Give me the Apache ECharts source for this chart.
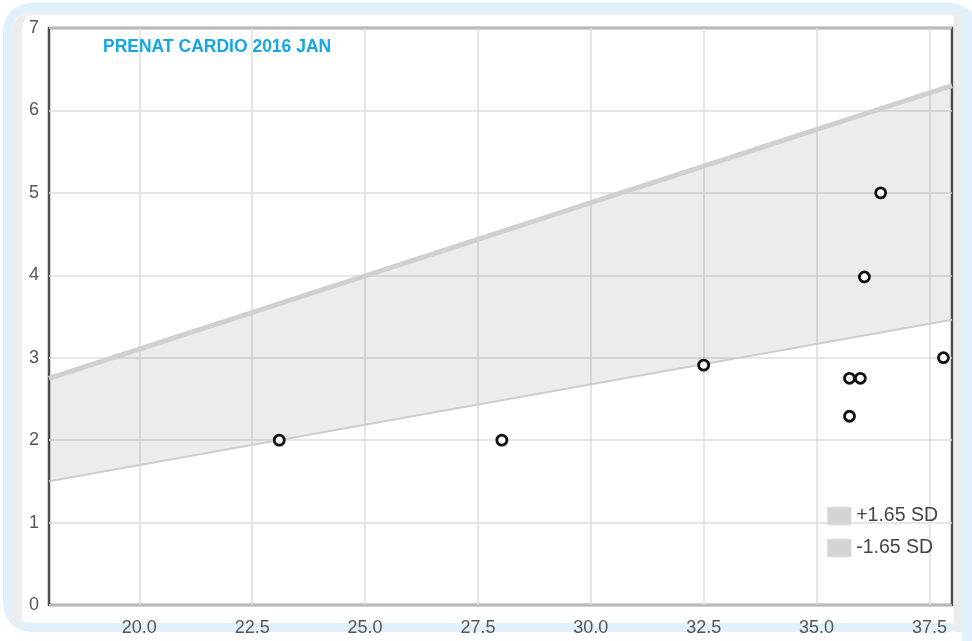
<!DOCTYPE html>
<html>
<head>
<meta charset="utf-8">
<script src="https://cdn.jsdelivr.net/npm/echarts@6/dist/echarts.min.js"></script>
<style>
  html, body { margin: 0; padding: 0; background: #fff; }
  #frame {
    position: absolute; left: 3px; top: 3px; width: 975px; height: 629px;
    border: 9px solid #e1f1fc; border-radius: 28px; box-sizing: border-box;
    border-right: none;
  }
  #inner {
    position: absolute; left: 0; top: 0; right: 0; bottom: 0;
    border-left: 10px solid #ededed; border-top: 3px solid #efefef;
    border-top-left-radius: 20px;
  }
  #rightStrip {
    position: absolute; left: 954px; top: 12px; width: 8px; height: 620px;
    background: #ececec;
  }
  #rightBlue {
    position: absolute; left: 962px; top: 12px; width: 10px; height: 629px;
    background: #e1f1fc;
  }
  #chart { position: absolute; left: 0; top: 0; width: 972px; height: 641px; }
</style>
</head>
<body>
<div id="frame"><div id="inner"></div></div>
<div id="rightStrip"></div>
<div id="rightBlue"></div>
<div id="chart"></div>
<script>
  // band edges (straight lines)
  const bandX = [18, 38];
  const upperSD = [2.75, 6.3];
  const lowerSD = [1.5, 3.46];

  // measured points
  const pointX = [23.1, 28.03, 32.5, 35.73, 35.97, 35.73, 36.06, 36.42, 37.81];
  const pointY = [2.0, 2.0, 2.91, 2.75, 2.75, 2.29, 3.98, 5.0, 3.0];

  const xTicks = [20, 22.5, 25, 27.5, 30, 32.5, 35, 37.5];

  const upperData = bandX.map((x, i) => [x, upperSD[i]]);
  const lowerData = bandX.map((x, i) => [x, lowerSD[i]]);
  const points = pointX.map((x, i) => [x, pointY[i]]);

  const myChart = echarts.init(document.getElementById("chart"));
  myChart.setOption({
    animation: false,
    title: {
      text: "PRENAT CARDIO 2016 JAN",
      left: 98,
      top: 33,
      textStyle: { color: "#14a6e6", fontSize: 17.5, fontWeight: "bold", fontFamily: "Liberation Sans" },
    },
    grid: {
      left: 49,
      right: 20,
      top: 28,
      bottom: 36,
      show: true,
      borderColor: "#4d4d4d",
      borderWidth: 2.5,
    },
    legend: {
      right: 29,
      bottom: 78,
      orient: "vertical",
      itemWidth: 24,
      itemHeight: 18,
      itemGap: 12,
      icon: "rect",
      textStyle: { color: "#444", fontSize: 19.5, fontFamily: "Liberation Sans" },
      data: [
        { name: "+1.65 SD", itemStyle: { color: "#d4d4d4", borderColor: "#e6e6e6", borderWidth: 1 } },
        { name: "-1.65 SD", itemStyle: { color: "#d4d4d4", borderColor: "#e6e6e6", borderWidth: 1 } },
      ],
    },
    xAxis: {
      type: "value",
      min: 18,
      max: 38,
      axisLine: { show: false },
      axisTick: { show: false, customValues: xTicks },
      axisLabel: {
        customValues: xTicks,
        color: "#555",
        fontSize: 18,
        fontFamily: "Liberation Sans",
        margin: 14,
        formatter: (v) => v.toFixed(1),
      },
      splitLine: { show: true, lineStyle: { color: "#dedede", width: 1.5 } },
    },
    yAxis: {
      type: "value",
      min: 0,
      max: 7,
      interval: 1,
      axisLine: { show: false },
      axisTick: { show: false },
      axisLabel: { color: "#555", fontSize: 18, fontFamily: "Liberation Sans", margin: 10 },
      splitLine: { show: true, lineStyle: { color: "#dedede", width: 1.5 } },
    },
    series: [
      {
        name: "band",
        type: "custom",
        data: [0],
        silent: true,
        z: 1,
        renderItem: (params, api) => {
          const pts = [];
          bandX.forEach((x, i) => pts.push(api.coord([x, upperSD[i]])));
          for (let i = bandX.length - 1; i >= 0; i--) pts.push(api.coord([bandX[i], lowerSD[i]]));
          return {
            type: "polygon",
            shape: { points: pts },
            style: { fill: "rgba(0,0,0,0.075)" },
          };
        },
      },
      {
        name: "-1.65 SD",
        type: "line",
        data: lowerData,
        symbol: "none",
        lineStyle: { color: "#cdcdcd", width: 2 },
        itemStyle: { color: "#d4d4d4" },
        z: 2,
      },
      {
        name: "+1.65 SD",
        type: "line",
        data: upperData,
        symbol: "none",
        lineStyle: { color: "#d0d0d0", width: 5 },
        itemStyle: { color: "#d4d4d4" },
        z: 2,
      },
      {
        name: "points",
        type: "scatter",
        data: points,
        symbol: "circle",
        symbolSize: 10,
        itemStyle: { color: "#fff", borderColor: "#111", borderWidth: 2.8, opacity: 1 },
        z: 5,
      },
    ],
  });
</script>
</body>
</html>
